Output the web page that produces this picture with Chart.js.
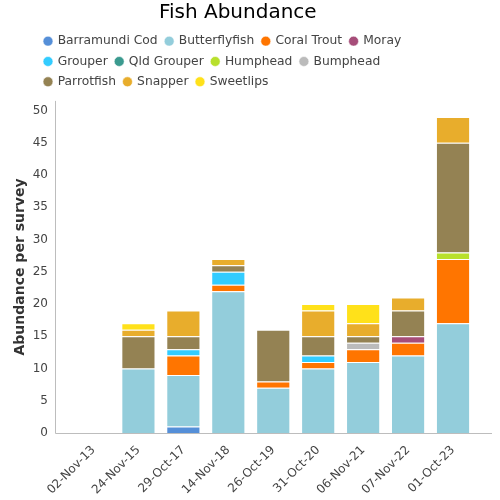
<html lang="en">
<head>
<meta charset="UTF-8">
<title>Fish Abundance</title>
<script src="https://cdn.jsdelivr.net/npm/chart.js"></script>
<style>
  body { margin: 0; background: #fff; }
  #wrap { width: 500px; height: 500px; }
</style>
</head>
<body>
<div id="wrap"><canvas id="mycanvas"></canvas></div>
<script>
var surveys = ['02-Nov-13', '24-Nov-15', '29-Oct-17', '14-Nov-18', '26-Oct-19', '31-Oct-20', '06-Nov-21', '07-Nov-22', '01-Oct-23'];

var barramundiCod = [0, 0, 1, 0, 0, 0, 0, 0, 0];
var butterflyfish = [0, 10, 8, 22, 7, 10, 11, 12, 17];
var coralTrout    = [0, 0, 3, 1, 1, 1, 2, 2, 10];
var moray         = [0, 0, 0, 0, 0, 0, 0, 1, 0];
var grouper       = [0, 0, 1, 2, 0, 1, 0, 0, 0];
var qldGrouper    = [0, 0, 0, 0, 0, 0, 0, 0, 0];
var humphead      = [0, 0, 0, 0, 0, 0, 0, 0, 1];
var bumphead      = [0, 0, 0, 0, 0, 0, 1, 0, 0];
var parrotfish    = [0, 5, 2, 1, 8, 3, 1, 4, 17];
var snapper       = [0, 1, 4, 1, 0, 4, 2, 2, 4];
var sweetlips     = [0, 1, 0, 0, 0, 1, 3, 0, 0];

var yTicks = [0, 5, 10, 15, 20, 25, 30, 35, 40, 45, 50];

function ds(label, data, color) {
  return {
    label: label, data: data, backgroundColor: color,
    borderColor: 'rgba(255,255,255,0.55)', borderWidth: 1,
    barPercentage: 0.76, categoryPercentage: 1
  };
}

// legend sits in a narrower box than the full canvas, rows start left
var legendBox = {
  id: 'legendBox',
  beforeLayout: function (chart) {
    var lg = chart.legend;
    if (!lg || lg._boxed) return;
    lg._boxed = true;
    var upd = lg.update;
    lg.update = function (maxWidth, maxHeight, margins) {
      upd.call(this, 400, maxHeight, margins);
      this.height += 3;
    };
  },
  afterLayout: function (chart) {
    var lg = chart.legend;
    lg.left = 36.5;
    lg.right = 436.5;
    lg.width = 400;
  }
};

// axis lines run a bit past the plot area
var axisLines = {
  id: 'axisLines',
  afterDraw: function (chart) {
    var a = chart.chartArea, c = chart.ctx;
    c.save();
    c.strokeStyle = '#bdbdbd';
    c.lineWidth = 1;
    c.beginPath();
    c.moveTo(a.left - 15.5, a.top);
    c.lineTo(a.left - 15.5, a.bottom + 0.5);
    c.lineTo(a.right + 16.5, a.bottom + 0.5);
    c.stroke();
    c.restore();
  }
};

var ctx = document.getElementById('mycanvas');
new Chart(ctx, {
  type: 'bar',
  data: {
    labels: surveys,
    datasets: [
      ds('Barramundi Cod', barramundiCod, '#558fd8'),
      ds('Butterflyfish', butterflyfish, '#93cddb'),
      ds('Coral Trout', coralTrout, '#ff7500'),
      ds('Moray', moray, '#a64d79'),
      ds('Grouper', grouper, '#33ccff'),
      ds('Qld Grouper', qldGrouper, '#3b9a8f'),
      ds('Humphead', humphead, '#b8e02c'),
      ds('Bumphead', bumphead, '#bbbbbb'),
      ds('Parrotfish', parrotfish, '#948253'),
      ds('Snapper', snapper, '#e8ad2c'),
      ds('Sweetlips', sweetlips, '#ffe11a')
    ]
  },
  plugins: [legendBox, axisLines],
  options: {
    responsive: true,
    maintainAspectRatio: false,
    animation: false,
    layout: { padding: { left: 0, right: 24.5, top: 0, bottom: 0 } },
    plugins: {
      title: {
        display: true, text: 'Fish Abundance', color: '#000',
        font: { family: 'DejaVu Sans', size: 20, weight: 'normal' },
        padding: { top: 1, bottom: 2 }
      },
      legend: {
        align: 'start',
        labels: {
          usePointStyle: true, pointStyle: 'circle', boxWidth: 7, boxHeight: 7,
          padding: 8, color: '#444',
          font: { family: 'DejaVu Sans', size: 12.3 }
        }
      },
      tooltip: { enabled: false }
    },
    scales: {
      x: {
        stacked: true,
        grid: { display: false, drawTicks: false },
        border: { display: false },
        ticks: { color: '#444', padding: 10, maxRotation: 45, minRotation: 45, font: { family: 'DejaVu Sans', size: 12 } },
        afterFit: function (scale) { scale.height = 67; }
      },
      y: {
        stacked: true,
        min: 0, max: 51.5,
        grid: { display: false, drawTicks: false },
        border: { display: false },
        ticks: { stepSize: 5, padding: 23, color: '#444', font: { family: 'DejaVu Sans', size: 12 } },
        afterBuildTicks: function (scale) {
          scale.ticks = yTicks.map(function (v) { return { value: v }; });
        },
        afterFit: function (scale) { scale.width = 71; },
        title: {
          display: true, text: 'Abundance per survey', color: '#333',
          padding: { top: 12, bottom: 0 },
          font: { family: 'DejaVu Sans', size: 14, weight: 'bold' }
        }
      }
    }
  }
});
</script>
</body>
</html>
